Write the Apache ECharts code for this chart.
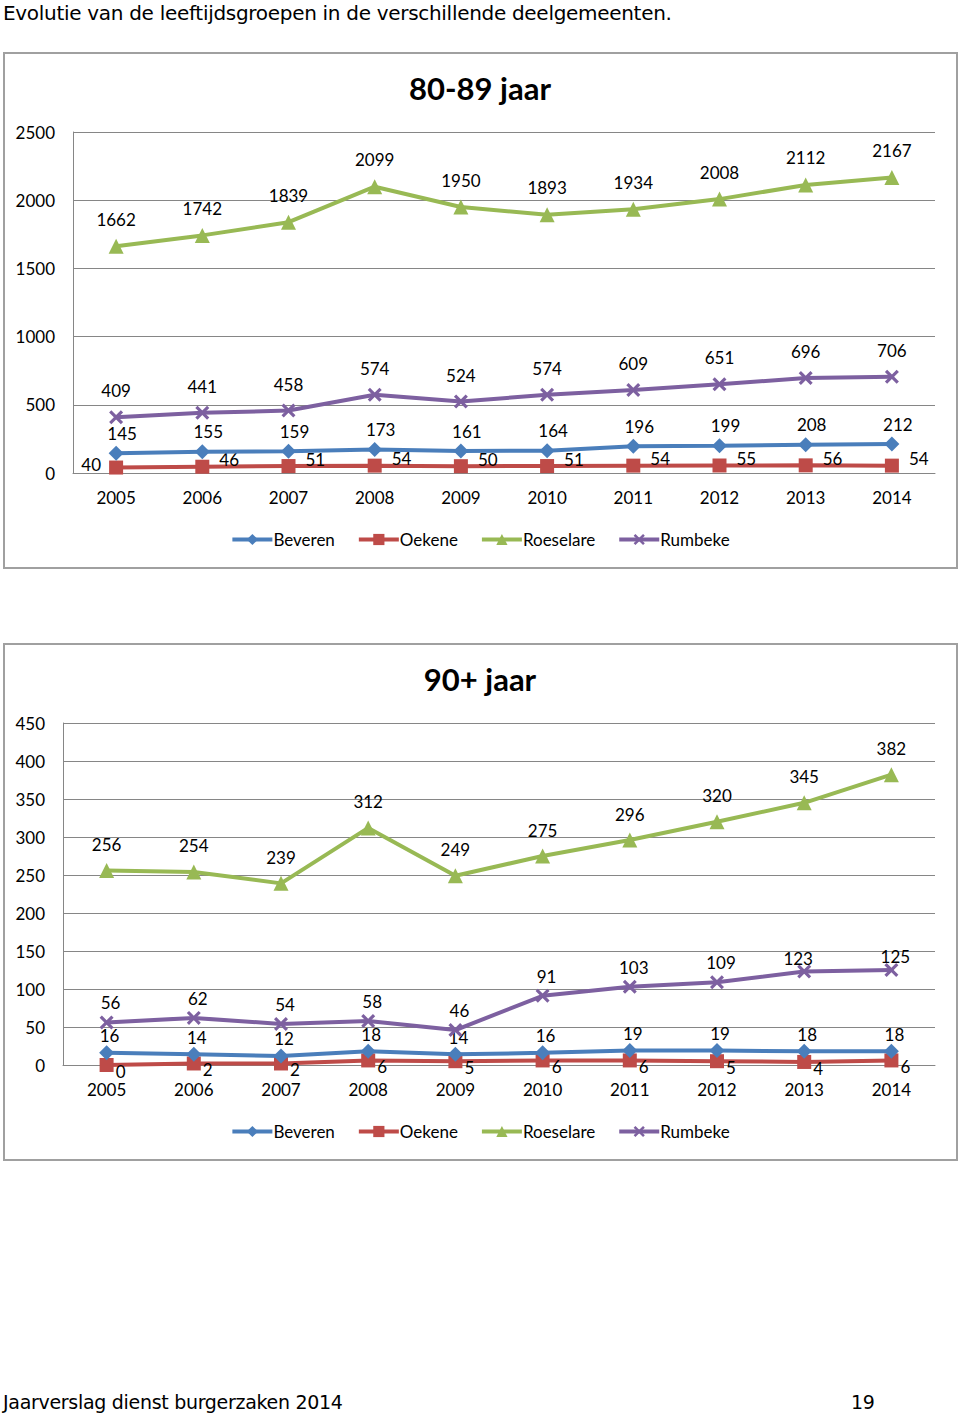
<!DOCTYPE html>
<html>
<head>
<meta charset="utf-8">
<script src="https://cdn.jsdelivr.net/npm/echarts@6/dist/echarts.min.js"></script>
<style>
  html, body { margin: 0; padding: 0; background: #fff; }
  body { width: 960px; height: 1414px; position: relative; overflow: hidden; }
  .heading { position: absolute; left: 3px; top: 0px; font-family: "DejaVu Sans", sans-serif; font-size: 20px; color: #000; line-height: 26px; letter-spacing: -0.3px; }
  .footer { position: absolute; top: 1390px; font-family: "DejaVu Sans", sans-serif; font-size: 19px; color: #000; line-height: 24px; letter-spacing: -0.3px; }
  .box { position: absolute; box-sizing: border-box; border: 2px solid #a0a0a0; }
  .chart { position: absolute; }
</style>
</head>
<body>
<div class="heading">Evolutie van de leeftijdsgroepen in de verschillende deelgemeenten.</div>
<div class="box" style="left:3px; top:52px; width:955px; height:517px;"></div>
<div class="chart" id="c1" style="left:5px; top:54px; width:950px; height:512px;"></div>
<div class="box" style="left:3px; top:643px; width:955px; height:518px;"></div>
<div class="chart" id="c2" style="left:5px; top:645px; width:950px; height:513px;"></div>
<div class="footer" style="left:3px;">Jaarverslag dienst burgerzaken 2014</div>
<div class="footer" style="left:851px;">19</div>
<script>
// ---- data ----
const years = ['2005','2006','2007','2008','2009','2010','2011','2012','2013','2014'];
const seriesNames = ['Beveren','Oekene','Roeselare','Rumbeke'];

const beveren80   = [145, 155, 159, 173, 161, 164, 196, 199, 208, 212];
const oekene80    = [40, 46, 51, 54, 50, 51, 54, 55, 56, 54];
const roeselare80 = [1662, 1742, 1839, 2099, 1950, 1893, 1934, 2008, 2112, 2167];
const rumbeke80   = [409, 441, 458, 574, 524, 574, 609, 651, 696, 706];

const beveren90   = [16, 14, 12, 18, 14, 16, 19, 19, 18, 18];
const oekene90    = [0, 2, 2, 6, 5, 6, 6, 5, 4, 6];
const roeselare90 = [256, 254, 239, 312, 249, 275, 296, 320, 345, 382];
const rumbeke90   = [56, 62, 54, 58, 46, 91, 103, 109, 123, 125];

const title1 = '80-89 jaar';
const title2 = '90+ jaar';

// ---- styles ----
const FONT = 'Lato, "Open Sans", sans-serif';
const colors = ['#4A7EBB', '#BE4B48', '#98B954', '#7D60A0'];
const xPath = 'path://M0,1.6 L1.6,0 L5,3.4 L8.4,0 L10,1.6 L6.6,5 L10,8.4 L8.4,10 L5,6.6 L1.6,10 L0,8.4 L3.4,5 Z';
const symbols = ['diamond', 'rect', 'triangle', xPath];
const symbolSizes = [15, 14, 15, 14];

function makeOption(title, gridLeft, max, interval, data, labelCfg) {
  return {
    animation: false,
    textStyle: { fontFamily: FONT },
    title: {
      text: title, left: 'center', top: 13,
      textStyle: { fontFamily: FONT, fontSize: 31, fontWeight: 'bold', color: '#000' }
    },
    legend: {
      bottom: 13, left: 'center',
      itemWidth: 40, itemHeight: 14, itemGap: 22,
      lineStyle: { width: 4 },
      textStyle: { fontFamily: FONT, fontSize: 17, color: '#000', padding: [0, 0, 0, -4] },
      data: seriesNames
    },
    grid: { left: gridLeft, right: 20, top: 78, bottom: 93, containLabel: false },
    xAxis: {
      type: 'category', data: years, boundaryGap: true,
      axisLine: { lineStyle: { color: '#868686', width: 1 } },
      axisTick: { show: false },
      axisLabel: { color: '#000', fontSize: 17, fontFamily: FONT, margin: 16 }
    },
    yAxis: {
      type: 'value', min: 0, max: max, interval: interval,
      axisLine: { show: true, lineStyle: { color: '#868686', width: 1 } },
      axisTick: { show: false },
      splitLine: { lineStyle: { color: '#868686', width: 1 } },
      axisLabel: { color: '#000', fontSize: 17, fontFamily: FONT, margin: 18, formatter: v => String(v) }
    },
    series: data.map((d, i) => ({
      name: seriesNames[i], type: 'line', data: d,
      color: colors[i],
      symbol: symbols[i], symbolSize: symbolSizes[i],
      lineStyle: { width: 4, color: colors[i] },
      itemStyle: { color: colors[i] },
      z: [3, 2, 4, 5][i],
      label: Object.assign({ show: true, color: '#000', fontSize: 17, fontFamily: FONT }, labelCfg[i])
    }))
  };
}

// Oekene 80-89: first label on the left
const oek80Data = oekene80.map((v, i) => i === 0 ? { value: v, label: { position: 'left', offset: [0, -3], distance: 8 } } : v);
// Rumbeke 90+: last two labels sit lower, closer to the marks
const rum90Data = rumbeke90.map((v, i) => i >= 8 ? { value: v, label: { distance: -2, offset: [i === 8 ? -6 : 4, 0] } } : v);

const c1 = echarts.init(document.getElementById('c1'), null, { renderer: 'svg' });
c1.setOption(makeOption(title1, 68, 2500, 500,
  [beveren80, oek80Data, roeselare80, rumbeke80],
  [
    { position: 'top', distance: 4, offset: [6, 0] },
    { position: 'right', distance: 10, offset: [0, -7] },
    { position: 'top', distance: 11 },
    { position: 'top', distance: 11 }
  ]));

const c2 = echarts.init(document.getElementById('c2'), null, { renderer: 'svg' });
c2.setOption(makeOption(title2, 58, 450, 50,
  [beveren90, oekene90, roeselare90, rum90Data],
  [
    { position: 'top', distance: 1, offset: [3, 0] },
    { position: 'bottom', distance: -9, offset: [14, 0] },
    { position: 'top', distance: 10 },
    { position: 'top', distance: 4, offset: [4, 0] }
  ]));
</script>
</body>
</html>
